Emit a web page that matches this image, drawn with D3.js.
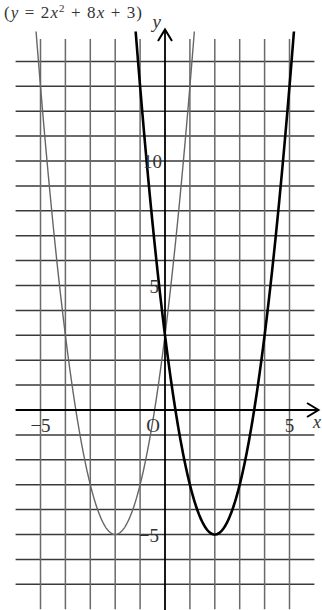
<!DOCTYPE html>
<html>
<head>
<meta charset="utf-8">
<script src="https://d3js.org/d3.v7.min.js"></script>
<style>
  body { margin: 0; background: #fff; }
  text { font-family: "Liberation Serif", "DejaVu Serif", serif; fill: #333; }
</style>
</head>
<body>
<svg id="chart" width="322" height="610"></svg>
<script>
// data
var gridX = [-5, -4, -3, -2, -1, 1, 2, 3, 4, 5];
var gridY = [-7, -6, -5, -4, -3, -2, -1, 1, 2, 3, 4, 5, 6, 7, 8, 9, 10, 11, 12, 13, 14];
var xTickLabels = [-5, 5];
var yTickLabels = [-5, 5, 10];
// coefficients [a, b, c] of y = ax^2 + bx + c
var curveThin = [2, 8, 3];
var curveThick = [2, -8, 3];

var svg = d3.select("#chart");

var x = d3.scaleLinear().domain([-6, 6]).range([15.6, 314.4]);
var y = d3.scaleLinear().domain([-8, 15]).range([609.2, 36.5]);

// grid
svg.append("g").selectAll("line")
  .data(gridY).enter().append("line")
    .attr("x1", x(-6)).attr("x2", x(6))
    .attr("y1", function(d) { return y(d); })
    .attr("y2", function(d) { return y(d); })
    .style("stroke", "#3a3a3a").style("stroke-width", 1.5);

svg.append("g").selectAll("line")
  .data(gridX).enter().append("line")
    .attr("x1", function(d) { return x(d); })
    .attr("x2", function(d) { return x(d); })
    .attr("y1", y(-8)).attr("y2", y(14.9))
    .style("stroke", "#6a6a6a").style("stroke-width", 1.5);

// curves
svg.append("clipPath").attr("id", "clip")
  .append("rect").attr("x", 0).attr("y", y(15.2)).attr("width", 322).attr("height", 610);

function samples(c) {
  return d3.range(-6, 6.001, 0.02).map(function(t) {
    return [t, c[0] * t * t + c[1] * t + c[2]];
  });
}
var line = d3.line()
  .x(function(d) { return x(d[0]); })
  .y(function(d) { return y(d[1]); });

svg.append("path")
  .attr("d", line(samples(curveThin)))
  .attr("clip-path", "url(#clip)")
  .style("fill", "none").style("stroke", "#666").style("stroke-width", 1.4);

svg.append("path")
  .attr("d", line(samples(curveThick)))
  .attr("clip-path", "url(#clip)")
  .style("fill", "none").style("stroke", "#000").style("stroke-width", 2.6);

// axes
svg.append("line")
  .attr("x1", x(-6)).attr("x2", 318).attr("y1", y(0)).attr("y2", y(0))
  .style("stroke", "#000").style("stroke-width", 1.8);
svg.append("line")
  .attr("x1", x(0)).attr("x2", x(0)).attr("y1", 610).attr("y2", 30)
  .style("stroke", "#000").style("stroke-width", 1.8);

svg.append("path")
  .attr("d", "M307," + (y(0) - 7) + "L318.5," + y(0) + "L307," + (y(0) + 7))
  .style("fill", "none").style("stroke", "#000").style("stroke-width", 2);
svg.append("path")
  .attr("d", "M" + (x(0) - 7) + ",41L" + x(0) + ",29.5L" + (x(0) + 7) + ",41")
  .style("fill", "none").style("stroke", "#000").style("stroke-width", 2);

// labels
svg.append("g").selectAll("text")
  .data(xTickLabels).enter().append("text")
    .attr("x", function(d) { return x(d); })
    .attr("y", y(0) + 22)
    .attr("text-anchor", "middle")
    .style("font-size", "19px")
    .text(function(d) { return d < 0 ? "\u2212" + (-d) : d; });

svg.append("g").selectAll("text")
  .data(yTickLabels).enter().append("text")
    .attr("x", function(d) { return d === 10 ? x(0) - 3 : x(0) - 6; })
    .attr("y", function(d) { return y(d) + 7; })
    .attr("text-anchor", "end")
    .style("font-size", "19px")
    .text(function(d) { return d < 0 ? "\u2212" + (-d) : d; });

svg.append("text")
  .attr("x", x(0) - 5).attr("y", y(0) + 22)
  .attr("text-anchor", "end")
  .style("font-size", "19px")
  .text("O");

svg.append("text")
  .attr("x", 313).attr("y", y(0) + 18)
  .style("font-size", "18px").style("font-style", "italic")
  .text("x");

svg.append("text")
  .attr("x", x(0) - 4).attr("y", 28)
  .attr("text-anchor", "end")
  .style("font-size", "19px").style("font-style", "italic")
  .text("y");

// title
var title = svg.append("text")
  .attr("x", 4).attr("y", 18)
  .attr("textLength", 138).attr("lengthAdjust", "spacing")
  .style("font-size", "17px");
title.append("tspan").text("(");
title.append("tspan").style("font-style", "italic").text("y");
title.append("tspan").text(" = 2");
title.append("tspan").style("font-style", "italic").text("x");
title.append("tspan").attr("dy", -6).style("font-size", "11px").text("2");
title.append("tspan").attr("dy", 6).text(" + 8");
title.append("tspan").style("font-style", "italic").text("x");
title.append("tspan").text(" + 3)");
</script>
</body>
</html>
